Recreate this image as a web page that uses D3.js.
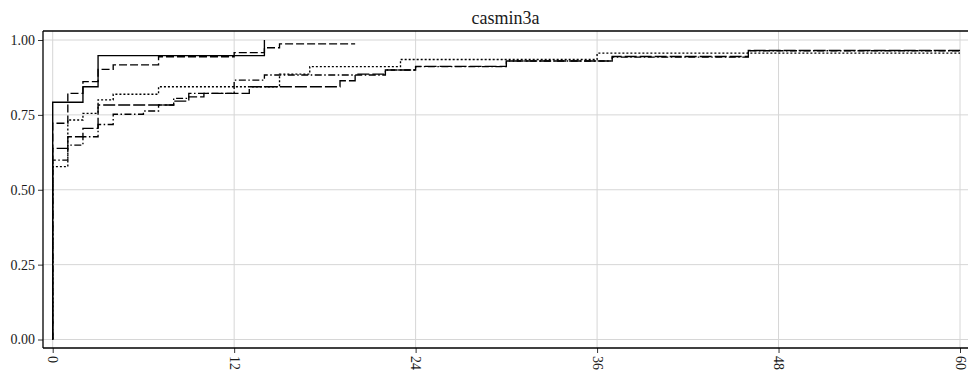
<!DOCTYPE html>
<html>
<head>
<meta charset="utf-8">
<script src="https://cdn.jsdelivr.net/npm/d3@7"></script>
<style>
  html, body { margin: 0; padding: 0; background: #ffffff; }
  svg { display: block; }
  svg text { font-family: "Liberation Serif", "Times New Roman", Times, serif !important; fill: #1a1a1a; }
</style>
</head>
<body>
<svg id="chart" width="968" height="373"></svg>
<script>
// Panel title and axis ticks
const panelTitle = "casmin3a";
const xTicks = [0, 12, 24, 36, 48, 60];
const yTicks = [0, 0.25, 0.5, 0.75, 1];

// Step curves: months since start and cumulative proportion, one pair per group
const timesSolid = [0, 0, 2, 3, 14];
const valuesSolid = [0, 0.792, 0.844, 0.948, 1.0];

const timesDashed = [0, 0, 1, 2, 3, 4, 7, 12, 14, 15, 20];
const valuesDashed = [0, 0.722, 0.822, 0.861, 0.902, 0.917, 0.944, 0.958, 0.974, 0.987, 0.987];

const timesDotted = [0, 0, 1, 2, 3, 4, 7, 15, 17, 23, 36, 60];
const valuesDotted = [0, 0.577, 0.733, 0.755, 0.800, 0.819, 0.844, 0.886, 0.911, 0.935, 0.956, 0.956];

const timesLongdash = [0, 0, 1, 2, 3, 8, 9, 10, 13, 19, 20, 22, 24, 30, 37, 46, 60];
const valuesLongdash = [0, 0.638, 0.677, 0.705, 0.783, 0.796, 0.810, 0.822, 0.844, 0.864, 0.886, 0.900, 0.912, 0.930, 0.945, 0.965, 0.965];

const timesDotdash = [0, 0, 1, 2, 3, 4, 6, 7, 8, 9, 12, 14, 22, 24, 30, 37, 46, 60];
const valuesDotdash = [0, 0.599, 0.649, 0.677, 0.718, 0.752, 0.763, 0.783, 0.805, 0.822, 0.866, 0.883, 0.900, 0.911, 0.930, 0.943, 0.964, 0.964];

const curves = [
  { t: timesLongdash, v: valuesLongdash, dash: "12,3" },
  { t: timesDotdash,  v: valuesDotdash,  dash: "7,2.5,1.5,2.5" },
  { t: timesDotted,   v: valuesDotted,   dash: "2,2" },
  { t: timesDashed,   v: valuesDashed,   dash: "8,3" },
  { t: timesSolid,    v: valuesSolid,    dash: null }
];

const serif = '"Liberation Serif", "Times New Roman", Times, serif';
const svg = d3.select("#chart");
const panel = { left: 43, top: 31, right: 968, bottom: 348 };

const x = d3.scaleLinear().domain([0, 60]).range([52.7, 960]);
const y = d3.scaleLinear().domain([0, 1]).range([339.5, 40]);

// Grid
const grid = svg.append("g").attr("stroke", "#d6d6d6").attr("stroke-width", 1);
grid.selectAll("line.h").data(yTicks).join("line").attr("class", "h")
  .attr("x1", panel.left).attr("x2", panel.right)
  .attr("y1", d => y(d)).attr("y2", d => y(d));
grid.selectAll("line.v").data(xTicks).join("line").attr("class", "v")
  .attr("y1", panel.top).attr("y2", panel.bottom)
  .attr("x1", d => x(d)).attr("x2", d => x(d));

// Curves
const line = d3.line()
  .x(d => x(d[0]))
  .y(d => y(d[1]))
  .curve(d3.curveStepAfter);

svg.append("g").selectAll("path").data(curves).join("path")
  .attr("d", c => line(c.t.map((t, i) => [t, c.v[i]])))
  .attr("fill", "none")
  .attr("stroke", "#000")
  .attr("stroke-width", 1.35)
  .attr("stroke-dasharray", c => c.dash);

// Axes
const yAxis = d3.axisLeft(y).tickValues(yTicks).tickFormat(d3.format(".2f")).tickSizeOuter(0).tickSize(5).tickPadding(3);
const gy = svg.append("g").attr("transform", `translate(${panel.left},0)`).call(yAxis)
  .attr("font-family", serif).attr("font-size", 14);
gy.select(".domain").remove();
gy.selectAll("line").attr("stroke", "#333");
gy.selectAll("text").style("font-family", serif).style("font-size", "14px");

const xAxis = d3.axisBottom(x).tickValues(xTicks).tickFormat(d3.format("d")).tickSizeOuter(0).tickSize(5);
const gx = svg.append("g").attr("transform", `translate(0,${panel.bottom})`).call(xAxis)
  .attr("font-family", serif).attr("font-size", 14);
gx.select(".domain").remove();
gx.selectAll("line").attr("stroke", "#333");
gx.selectAll("text")
  .style("font-family", serif).style("font-size", "14px")
  .attr("text-anchor", "start")
  .attr("transform", "rotate(90)")
  .attr("x", 8).attr("y", 0).attr("dy", "0.35em");

// Panel border: left, top and bottom
const border = svg.append("g").attr("stroke", "#000").attr("stroke-width", 1.3);
border.append("line").attr("x1", panel.left).attr("x2", panel.left).attr("y1", panel.top).attr("y2", panel.bottom);
border.append("line").attr("x1", panel.left).attr("x2", panel.right).attr("y1", panel.top).attr("y2", panel.top);
border.append("line").attr("x1", panel.left).attr("x2", panel.right).attr("y1", panel.bottom).attr("y2", panel.bottom);

// Title
svg.append("text")
  .attr("x", (panel.left + panel.right) / 2)
  .attr("y", 24)
  .attr("text-anchor", "middle")
  .style("font-family", serif)
  .style("font-size", "18px")
  .text(panelTitle);
</script>
</body>
</html>
